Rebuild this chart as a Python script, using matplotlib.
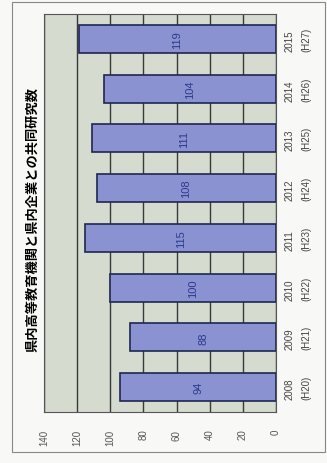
import matplotlib
matplotlib.use("Agg")
import matplotlib.pyplot as plt
from matplotlib.patches import Rectangle

# Joint research projects between prefectural higher-education institutions and local companies
years = ["2008", "2009", "2010", "2011", "2012", "2013", "2014", "2015"]
eras = ["(H20)", "(H21)", "(H22)", "(H23)", "(H24)", "(H25)", "(H26)", "(H27)"]
counts = [94, 88, 100, 115, 108, 111, 104, 119]
value_ticks = [0, 20, 40, 60, 80, 100, 120, 140]
title = "県内高等教育機関と県内企業との共同研究数"

plt.rcParams['font.family'] = ['Liberation Sans', 'DejaVu Sans']

W, H = 327, 464
fig = plt.figure(figsize=(W / 100, H / 100), dpi=100)
fig.patch.set_facecolor('#f8f8f6')

ax = fig.add_axes([44 / W, 1 - 413 / H, (276 - 44) / W, (413 - 15) / H])
ax.set_facecolor('#d5dbcf')

pos = list(range(len(years)))
bars = ax.barh(pos, counts, height=0.56, color='#8a92d2',
               edgecolor='#1f2850', linewidth=1.2, zorder=3)

ax.set_xlim(140, 0)
ax.set_ylim(-0.5, len(years) - 0.5)

ax.set_xticks(value_ticks)
ax.set_xticklabels([str(v) for v in value_ticks], rotation=90,
                   fontsize=7, color='#555555')
ax.tick_params(axis='x', length=0, pad=12)
ax.xaxis.grid(True, color='#3a3a3a', linewidth=1.0, zorder=1)
ax.set_axisbelow(True)

ax.yaxis.tick_right()
ax.set_yticks(pos)
ax.set_yticklabels([f"{y}\n{e}" for y, e in zip(years, eras)],
                   rotation=90, fontsize=7, linespacing=1.9,
                   va='center', color='#444444')
ax.tick_params(axis='y', length=0, pad=6)

for s in ax.spines.values():
    s.set_color('#555555')
    s.set_linewidth(0.8)

ax.bar_label(bars, labels=[str(c) for c in counts], label_type='center',
             rotation=90, fontsize=8, color='#2b3a8a')

fig.text(32 / W, 1 - 219 / H, title, rotation=90, ha='center', va='center',
         fontsize=9.5, fontweight='bold',
         family=['Noto Sans CJK JP', 'DejaVu Sans'])

fig.add_artist(Rectangle((12 / W, 1 - 453 / H), (325 - 12) / W, (453 - 3) / H,
                         transform=fig.transFigure, fill=False,
                         edgecolor='#888888', linewidth=0.8))

fig.savefig("out.png", dpi=100, facecolor=fig.get_facecolor())
